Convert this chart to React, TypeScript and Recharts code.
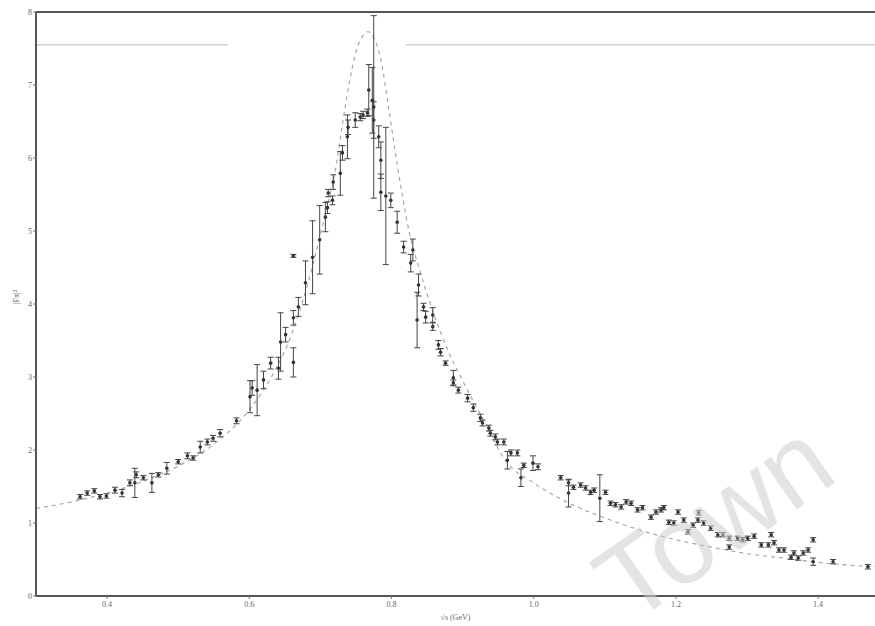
import {
  ComposedChart,
  Line,
  Scatter,
  ErrorBar,
  XAxis,
  YAxis,
  ReferenceLine,
} from "recharts"

// measured points: sqrt(s) in GeV, |F_pi|^2, symmetric error
const dataS = [
  0.362, 0.372, 0.382, 0.39, 0.399, 0.411, 0.421, 0.432, 0.439, 0.441,
  0.451, 0.463, 0.472, 0.484, 0.5, 0.513, 0.521, 0.531, 0.541, 0.549,
  0.559, 0.582, 0.601, 0.604, 0.611, 0.62, 0.63, 0.641, 0.644, 0.651,
  0.662, 0.662, 0.662, 0.669, 0.679, 0.689, 0.699, 0.707, 0.71, 0.717,
  0.711, 0.718, 0.728, 0.731, 0.738, 0.739, 0.749, 0.756, 0.76, 0.766,
  0.768, 0.775, 0.773, 0.775, 0.782, 0.785, 0.785, 0.792, 0.799, 0.808,
  0.817, 0.83, 0.827, 0.838, 0.836, 0.845, 0.848, 0.858, 0.858, 0.866,
  0.869, 0.876, 0.887, 0.887, 0.894, 0.907, 0.915, 0.925, 0.928, 0.937,
  0.939, 0.946, 0.949, 0.958, 0.968, 0.977, 0.963, 0.982, 0.986, 0.999,
  1.006, 1.038, 1.049, 1.049, 1.056, 1.066, 1.073, 1.08, 1.085, 1.093,
  1.101, 1.108, 1.115, 1.123, 1.13, 1.137, 1.146, 1.153, 1.165, 1.172,
  1.179, 1.183, 1.19, 1.197, 1.203, 1.211, 1.217, 1.224, 1.231, 1.232,
  1.239, 1.249, 1.259, 1.266, 1.275, 1.287, 1.294, 1.301, 1.31, 1.275,
  1.32, 1.33, 1.334, 1.338, 1.345, 1.352, 1.362, 1.366, 1.372, 1.379,
  1.386, 1.393, 1.393, 1.421, 1.47,
]
const dataF = [
  1.36, 1.41, 1.44, 1.36, 1.37, 1.45, 1.41, 1.55, 1.55, 1.66,
  1.62, 1.55, 1.66, 1.75, 1.84, 1.92, 1.89, 2.04, 2.11, 2.16,
  2.23, 2.4, 2.73, 2.85, 2.82, 2.96, 3.19, 3.12, 3.48, 3.58,
  3.81, 3.2, 4.66, 3.96, 4.29, 4.64, 4.88, 5.19, 5.32, 5.42,
  5.52, 5.67, 5.79, 6.07, 6.29, 6.42, 6.52, 6.56, 6.59, 6.62,
  6.93, 6.7, 6.79, 6.52, 6.29, 5.97, 5.53, 5.48, 5.42, 5.12,
  4.78, 4.74, 4.56, 4.26, 3.78, 3.96, 3.82, 3.85, 3.69, 3.44,
  3.34, 3.19, 2.99, 2.92, 2.82, 2.71, 2.58, 2.44, 2.37, 2.3,
  2.23, 2.18, 2.11, 2.11, 1.96, 1.96, 1.86, 1.62, 1.79, 1.82,
  1.77, 1.62, 1.55, 1.41, 1.49, 1.52, 1.48, 1.42, 1.45, 1.34,
  1.42, 1.27, 1.25, 1.22, 1.29, 1.27, 1.18, 1.21, 1.08, 1.15,
  1.18, 1.21, 1.01, 1.0, 1.15, 1.04, 0.88, 0.97, 1.04, 1.14,
  1.0, 0.93, 0.84, 0.84, 0.79, 0.79, 0.77, 0.79, 0.82, 0.67,
  0.7, 0.7, 0.84, 0.73, 0.63, 0.63, 0.53, 0.59, 0.52, 0.59,
  0.63, 0.77, 0.47, 0.47, 0.4,
]
const dataErr = [
  0.03, 0.03, 0.03, 0.03, 0.03, 0.04, 0.05, 0.04, 0.2, 0.04,
  0.03, 0.13, 0.03, 0.08, 0.03, 0.04, 0.03, 0.08, 0.04, 0.04,
  0.05, 0.04, 0.22, 0.1, 0.35, 0.12, 0.08, 0.15, 0.4, 0.1,
  0.1, 0.2, 0.02, 0.13, 0.3, 0.5, 0.47, 0.2, 0.08, 0.06,
  0.05, 0.1, 0.3, 0.1, 0.3, 0.1, 0.1, 0.05, 0.05, 0.05,
  0.35, 1.25, 0.45, 0.25, 0.15, 0.25, 0.25, 0.94, 0.1, 0.15,
  0.08, 0.15, 0.12, 0.15, 0.38, 0.05, 0.08, 0.1, 0.05, 0.06,
  0.05, 0.03, 0.1, 0.04, 0.04, 0.05, 0.05, 0.05, 0.04, 0.04,
  0.04, 0.04, 0.04, 0.04, 0.04, 0.04, 0.12, 0.12, 0.03, 0.1,
  0.04, 0.03, 0.04, 0.19, 0.03, 0.03, 0.03, 0.03, 0.03, 0.32,
  0.03, 0.03, 0.03, 0.03, 0.03, 0.03, 0.03, 0.03, 0.03, 0.03,
  0.03, 0.03, 0.03, 0.03, 0.03, 0.03, 0.03, 0.03, 0.03, 0.03,
  0.03, 0.03, 0.03, 0.03, 0.03, 0.03, 0.03, 0.03, 0.03, 0.03,
  0.03, 0.03, 0.03, 0.03, 0.03, 0.03, 0.03, 0.03, 0.03, 0.03,
  0.03, 0.03, 0.05, 0.03, 0.03,
]

// fitted curve
const fitS = [
  0.3, 0.35, 0.4, 0.45, 0.5, 0.55, 0.6, 0.63, 0.66, 0.68,
  0.7, 0.71, 0.72, 0.73, 0.74, 0.75, 0.76, 0.767, 0.775, 0.785,
  0.795, 0.805, 0.815, 0.825, 0.84, 0.86, 0.88, 0.9, 0.93, 0.96,
  1.0, 1.05, 1.1, 1.15, 1.2, 1.25, 1.3, 1.35, 1.4, 1.48,
]
const fitF = [
  1.2, 1.29, 1.41, 1.57, 1.78, 2.08, 2.55, 2.98, 3.6, 4.2,
  4.95, 5.35, 5.78, 6.4, 7.0, 7.45, 7.68, 7.73, 7.65, 7.35,
  6.75, 6.1, 5.5, 4.98, 4.45, 3.85, 3.35, 2.95, 2.4, 1.86,
  1.55, 1.27, 1.07, 0.9, 0.77, 0.67, 0.58, 0.52, 0.46, 0.4,
]

const xTicks = [0.4, 0.6, 0.8, 1.0, 1.2, 1.4]
const yTicks = [0, 1, 2, 3, 4, 5, 6, 7, 8]

const points = dataS.map((s, i) => ({ s, f: dataF[i], e: dataErr[i] }))
const fit = fitS.map((s, i) => ({ s, f: fitF[i] }))

const tickStyle = {
  fontSize: 8,
  fill: "#666",
  fontFamily: "Liberation Serif",
}

function Dot(props: any) {
  return <circle cx={props.cx} cy={props.cy} r={1.8} fill="#333" />
}

export default function App() {
  return (
    <div style={{ position: "absolute", left: 0, top: 0, width: 875, height: 626, background: "#fff", overflow: "hidden" }}>

      <ComposedChart
        width={875}
        height={626}
        margin={{ top: 12, right: 0, left: 8, bottom: 6 }}
      >

        <XAxis
          type="number"
          dataKey="s"
          domain={[0.3, 1.48]}
          ticks={xTicks}
          tickFormatter={(v) => Number(v).toFixed(1)}
          tick={tickStyle}
          tickSize={3}
          tickMargin={2}
          height={24}
          axisLine={{ stroke: "#555", strokeWidth: 2 }}
          tickLine={{ stroke: "#777" }}
          allowDataOverflow
          label={{
            value: "√s (GeV)",
            position: "insideBottom",
            offset: 0,
            style: { fontSize: 8, fill: "#666", fontFamily: "Liberation Serif" },
          }}
        />

        <YAxis
          type="number"
          domain={[0, 8]}
          ticks={yTicks}
          tick={tickStyle}
          tickSize={3}
          tickMargin={1}
          width={28}
          axisLine={{ stroke: "#555", strokeWidth: 2 }}
          tickLine={{ stroke: "#777" }}
          label={{
            value: "|F\u03c0|²",
            angle: -90,
            position: "insideLeft",
            offset: 8,
            style: { fontSize: 8, fill: "#666", fontFamily: "Liberation Serif" },
          }}
        />

        <ReferenceLine y={8} stroke="#555" strokeWidth={2} />

        <ReferenceLine
          segment={[{ x: 0.3, y: 7.55 }, { x: 0.57, y: 7.55 }]}
          stroke="#cfcfcf"
          strokeWidth={1.5}
        />
        <ReferenceLine
          segment={[{ x: 0.82, y: 7.55 }, { x: 1.48, y: 7.55 }]}
          stroke="#cfcfcf"
          strokeWidth={1.5}
        />

        <Line
          data={fit}
          dataKey="f"
          type="monotone"
          dot={false}
          stroke="#a0a0a0"
          strokeWidth={1.1}
          strokeDasharray="4 4"
          isAnimationActive={false}
        />

        <Scatter
          data={points}
          dataKey="f"
          shape={<Dot />}
          isAnimationActive={false}
        >
          <ErrorBar dataKey="e" direction="y" width={3} stroke="#444" strokeWidth={1} />
        </Scatter>

      </ComposedChart>

      <div
        style={{
          position: "absolute",
          left: 640,
          top: 530,
          fontSize: 110,
          fontFamily: "Liberation Sans",
          color: "rgba(205,205,205,0.55)",
          transform: "rotate(-35deg)",
          transformOrigin: "left bottom",
          pointerEvents: "none",
          lineHeight: 1,
        }}
      >
        Town
      </div>

    </div>
  )
}
